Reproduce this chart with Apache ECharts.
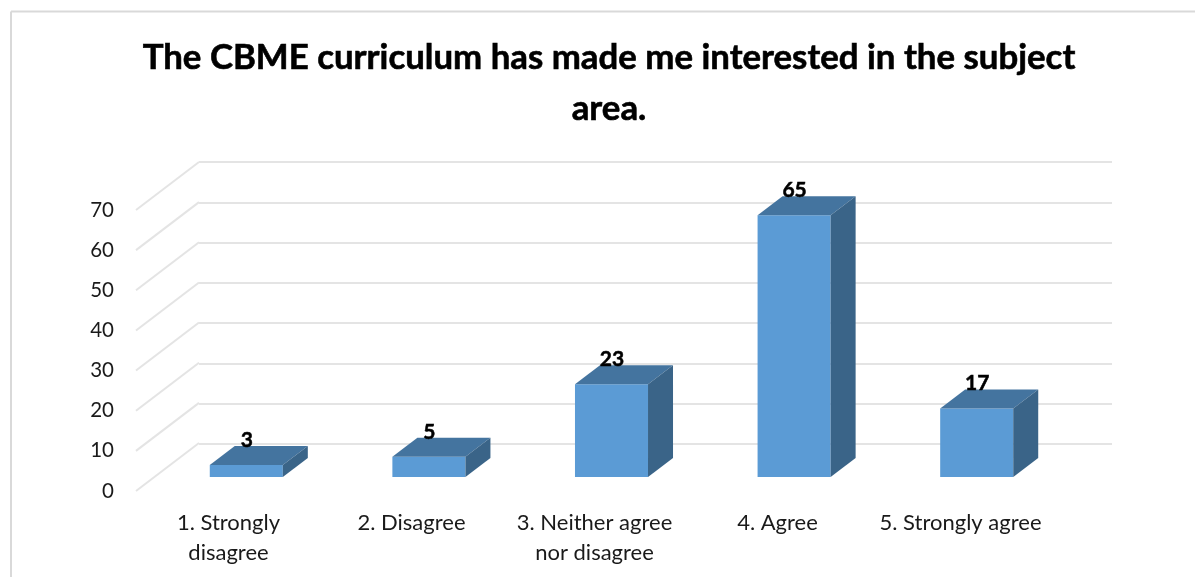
<!DOCTYPE html>
<html><head><meta charset="utf-8">
<style>html,body{margin:0;padding:0;background:#fff}#c{width:1195px;height:577px}</style>
<script src="https://cdn.jsdelivr.net/npm/echarts@6/dist/echarts.min.js"></script>
</head><body><div id="c"></div>
<script>
var titleText = 'The CBME curriculum has made me interested in the subject\narea.';
var categories = ['1. Strongly\ndisagree', '2. Disagree', '3. Neither agree\nnor disagree', '4. Agree', '5. Strongly agree'];
var values = [3, 5, 23, 65, 17];
var ticks = [0, 10, 20, 30, 40, 50, 60, 70];
var FONT = 'Lato, "Open Sans", sans-serif';
var DX = 25, DY = 19;

var chart = echarts.init(document.getElementById('c'), null, {renderer: 'canvas'});
function plainCat(i) {
  return {type: 'category', gridIndex: i, data: categories, axisLine: {show: false}, axisTick: {show: false}, axisLabel: {show: false}, splitLine: {show: false}};
}
function plainVal(i, show) {
  return {type: 'value', gridIndex: i, min: 0, max: 70, interval: 10, axisLine: {show: false}, axisTick: {show: false}, axisLabel: {show: false}, splitLine: {show: !!show, lineStyle: {color: '#e4e4e4', width: 2}}};
}
var labelAxisX = plainCat(0);
labelAxisX.axisLabel = {
  show: true, interval: 0, hideOverlap: false, margin: 17, color: '#1a1a1a', fontFamily: FONT, fontSize: 22, lineHeight: 30
};
var labelAxisY = plainVal(0);
labelAxisY.axisLabel = {show: true, margin: 23, color: '#1a1a1a', fontFamily: FONT, fontSize: 20.5};

chart.setOption({
  animation: false,
  backgroundColor: '#ffffff',
  title: {
    text: titleText, left: 604, top: 27, textAlign: 'center',
    textStyle: {fontFamily: FONT, fontWeight: 'bold', fontSize: 34.8, lineHeight: 51, color: '#000', textBorderColor: '#000', textBorderWidth: 0.6}
  },
  grid: [
    {left: 137, width: 915, top: 210, height: 281},
    {left: 199, width: 913, top: 162, height: 282},
    {left: 155, width: 913, top: 195, height: 282}
  ],
  xAxis: [labelAxisX, plainCat(1), plainCat(2)],
  yAxis: [labelAxisY, plainVal(1, true), plainVal(2)],
  graphic: [
    {type: 'line', silent: true, z: 0, shape: {x1: 11, y1: 577, x2: 11, y2: 11.5}, style: {stroke: '#d9d9d9', lineWidth: 2}},
    {type: 'line', silent: true, z: 0, shape: {x1: 11, y1: 11.5, x2: 1195, y2: 11.5}, style: {stroke: '#d9d9d9', lineWidth: 2}}
  ],
  series: [
    {
      type: 'custom', xAxisIndex: 0, yAxisIndex: 0, silent: true, z: 1, clip: false,
      data: ticks,
      renderItem: function (params, api) {
        var y = api.coord([0, api.value(0)])[1];
        var x = params.coordSys.x;
        return {type: 'line', shape: {x1: x - 1, y1: y, x2: x + 62, y2: y - 48}, style: {stroke: '#e4e4e4', lineWidth: 2}};
      },
      encode: {y: 0}
    },
    {
      type: 'custom', xAxisIndex: 2, yAxisIndex: 2, silent: true, z: 5, clip: false,
      data: values.map(function (v, i) { return [i, v]; }),
      encode: {x: 0, y: 1},
      renderItem: function (params, api) {
        var top = api.coord([api.value(0), api.value(1)]);
        var base = api.coord([api.value(0), 0]);
        var w = api.size([1, 0])[0] * 0.4;
        var l = top[0] - w / 2, r = top[0] + w / 2, t = top[1], b = base[1];
        return {type: 'group', children: [
          {type: 'polygon', shape: {points: [[l, b], [r, b], [r, t], [l, t]]}, style: {fill: '#5b9bd5'}},
          {type: 'polygon', shape: {points: [[l, t], [r, t], [r + DX, t - DY], [l + DX, t - DY]]}, style: {fill: '#44749f'}},
          {type: 'polygon', shape: {points: [[r, b], [r + DX, b - DY], [r + DX, t - DY], [r, t]]}, style: {fill: '#3a6488'}},
          {type: 'text', z2: 10, style: {text: String(api.value(1)), x: top[0] + 0.5, y: t - DY - 6, align: 'center', verticalAlign: 'middle', fontFamily: FONT, fontWeight: 'bold', fontSize: 21, fill: '#000', stroke: '#000', lineWidth: 0.5}}
        ]};
      }
    }
  ]
});
</script></body></html>
